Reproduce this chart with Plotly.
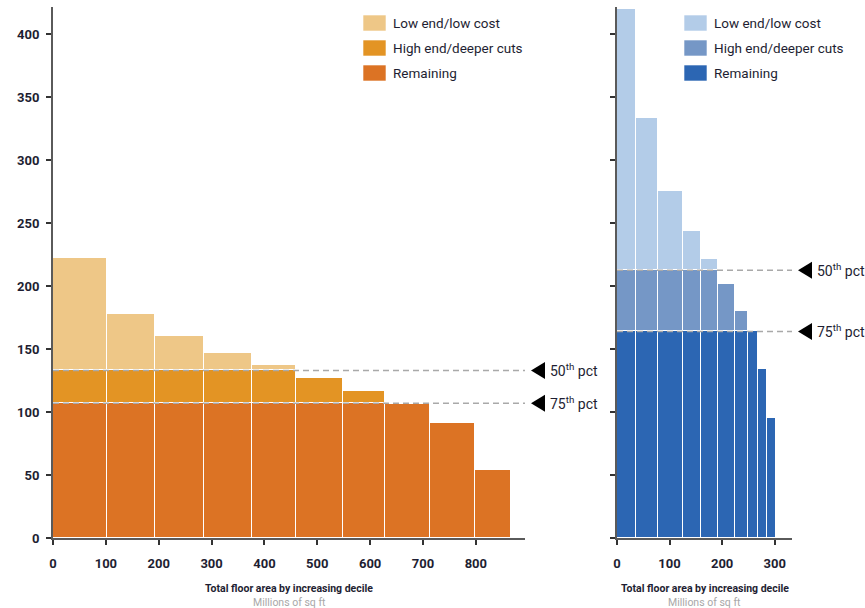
import plotly.graph_objects as go

# ---------------- data ----------------
series_names = ["Low end/low cost", "High end/deeper cuts", "Remaining"]

# left panel (orange)
left_edges = [0, 102, 193, 285, 376, 460, 548, 629, 713, 799, 866]
left_remaining = [107, 107, 107, 107, 107, 107, 107, 106, 91, 54]
left_high = [26, 26, 26, 26, 26, 20, 10, 0, 0, 0]
left_low = [89, 45, 27, 14, 4, 0, 0, 0, 0, 0]
left_pct = [133, 107]

# right panel (blue)
right_edges = [0, 36.7, 78, 125, 160, 192, 224, 249, 268, 285.5, 302.7]
right_remaining = [164, 164, 164, 164, 164, 164, 164, 164, 134, 95]
right_high = [48.6, 48.6, 48.6, 48.6, 48.6, 37.5, 16, 0, 0, 0]
right_low = [207, 121, 63, 31, 8.5, 0, 0, 0, 0, 0]
right_pct = [212.6, 164]

pct_labels = ["50<sup>th</sup> pct", "75<sup>th</sup> pct"]
y_ticks = [0, 50, 100, 150, 200, 250, 300, 350, 400]
left_x_ticks = [0, 100, 200, 300, 400, 500, 600, 700, 800]
right_x_ticks = [0, 100, 200, 300]
x_title = "Total floor area by increasing decile"
x_subtitle = "Millions of sq ft"

# ---------------- styles ----------------
left_colors = ["#EEC787", "#E39424", "#DC7324"]
right_colors = ["#B3CCE8", "#7597C6", "#2C66B3"]
TXT = "#1e1e32"
FONT = "Roboto"

W, H = 865, 608
ML, MR, MT, MB = 53, 73, 7, 70
PW = W - ML - MR
PH = H - MT - MB


def px(x):
    return (x - ML) / PW


def py(y):
    return (H - MB - y) / PH


def widths(edges):
    return [b - a for a, b in zip(edges[:-1], edges[1:])]


fig = go.Figure()

for (xa, ya, edges, cols, vals) in [
    ("x", "y", left_edges, left_colors, [left_remaining, left_high, left_low]),
    ("x2", "y2", right_edges, right_colors, [right_remaining, right_high, right_low]),
]:
    for name, col, v in zip(series_names[::-1], cols[::-1], vals):
        fig.add_trace(go.Bar(
            x=edges[:-1], y=v, width=widths(edges), offset=0,
            name=name, xaxis=xa, yaxis=ya, showlegend=False,
            marker=dict(color=col, line=dict(color="white", width=1.5)),
        ))

axis_common = dict(
    showgrid=False, zeroline=False, showline=True, linecolor="#5a5a5a",
    ticks="outside", ticklen=5, tickwidth=1.5, tickcolor="#333333",
    tickfont=dict(family=FONT, size=13, color=TXT, weight="bold"),
)

fig.update_layout(
    width=W, height=H,
    margin=dict(l=ML, r=MR, t=MT, b=MB),
    paper_bgcolor="white", plot_bgcolor="white",
    barmode="stack", bargap=0,
    xaxis=dict(domain=[0, px(525)], range=[0, 893], tickvals=left_x_ticks,
               anchor="y", linewidth=1.5, ticklabelstandoff=8, **axis_common),
    xaxis2=dict(domain=[px(617), 1], range=[0, 333], tickvals=right_x_ticks,
                anchor="y2", linewidth=1.5, ticklabelstandoff=8, **axis_common),
    yaxis=dict(domain=[0, 1], range=[0, 421.5], tickvals=y_ticks, anchor="x",
               linewidth=2, ticklabelstandoff=4, **axis_common),
    yaxis2=dict(domain=[0, 1], range=[0, 421.5], tickvals=y_ticks, anchor="x2",
                linewidth=2, showticklabels=False, **axis_common),
)

shapes = []
annotations = []

# percentile lines, arrows and labels
for xd, yr, pcts in [("x domain", "y", left_pct), ("x2 domain", "y2", right_pct)]:
    for val, lab in zip(pcts, pct_labels):
        shapes.append(dict(type="line", xref=xd, yref=yr, x0=0, x1=1, y0=val, y1=val,
                           line=dict(color="#a9a9a9", width=1.5, dash="6px,4px"), layer="above"))
        shapes.append(dict(type="path", xref=xd, yref=yr, xsizemode="pixel", ysizemode="pixel",
                           xanchor=1, yanchor=val, path="M6,0 L20,8.5 L20,-8.5 Z",
                           fillcolor="black", line=dict(width=0), layer="above"))
        annotations.append(dict(xref=xd, yref=yr, x=1, y=val, xshift=23, xanchor="left",
                                yanchor="middle", showarrow=False, text=lab,
                                font=dict(family=FONT, size=14, color=TXT)))

# legends
legend_rows = [23, 48, 73]
for sw_x, cols in [(363, left_colors), (684, right_colors)]:
    for row_y, col, name in zip(legend_rows, cols, series_names):
        shapes.append(dict(type="rect", xref="paper", yref="paper",
                           x0=px(sw_x), x1=px(sw_x + 23), y0=py(row_y + 8), y1=py(row_y - 8),
                           fillcolor=col, line=dict(color="rgba(255,255,255,0.6)", width=1)))
        annotations.append(dict(xref="paper", yref="paper", x=px(sw_x + 28), y=py(row_y),
                                xanchor="left", yanchor="middle", showarrow=False, text=name,
                                font=dict(family=FONT, size=13.5, color=TXT)))

# axis titles
for xd in ["x domain", "x2 domain"]:
    annotations.append(dict(xref=xd, yref="paper", x=0.5, y=py(588), xanchor="center",
                            yanchor="middle", showarrow=False, text="<b>" + x_title + "</b>",
                            font=dict(family=FONT, size=10.5, color=TXT)))
    annotations.append(dict(xref=xd, yref="paper", x=0.5, y=py(602), xanchor="center",
                            yanchor="middle", showarrow=False, text=x_subtitle,
                            font=dict(family=FONT, size=10.5, color="#a8a8a8")))

fig.update_layout(shapes=shapes, annotations=annotations)
fig.write_html("out.html", config={"displayModeBar": False},
               post_script="document.body.style.margin='0';document.body.style.overflow='hidden';")
